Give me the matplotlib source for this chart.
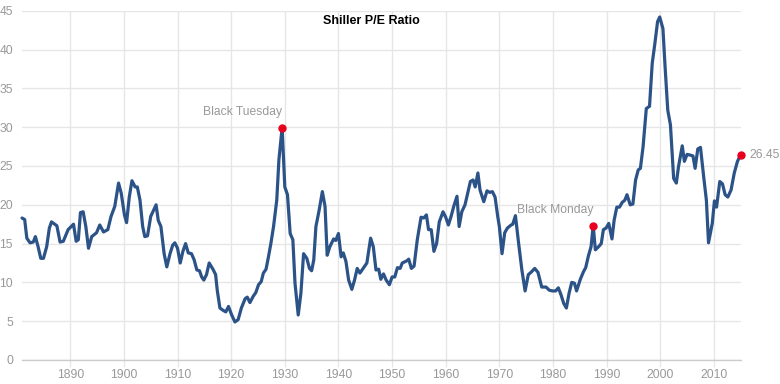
"""Shiller P/E ratio line chart, 1881-2015."""

import matplotlib

matplotlib.use("Agg")
import matplotlib.pyplot as plt

YEARS = [
    1881.0, 1881.5, 1881.9, 1882.5, 1883.1, 1883.5, 1884.0, 1884.5, 1885.0, 1885.6,
    1886.1, 1886.5, 1887.5, 1888.1, 1888.7, 1889.6, 1890.6, 1891.1, 1891.5, 1891.9,
    1892.4, 1892.9, 1893.4, 1894.0, 1894.9, 1895.5, 1896.2, 1897.0, 1897.6, 1898.3,
    1899.0, 1899.5, 1900.1, 1900.5, 1901.0, 1901.5, 1902.1, 1902.5, 1903.0, 1903.5,
    1903.9, 1904.4, 1905.0, 1906.0, 1906.4, 1906.9, 1907.5, 1908.0, 1908.6, 1909.1,
    1909.5, 1910.0, 1910.5, 1911.0, 1911.5, 1912.0, 1912.6, 1913.1, 1913.6, 1914.1,
    1914.5, 1914.9, 1915.4, 1915.9, 1916.6, 1917.1, 1917.4, 1917.9, 1918.5, 1919.0,
    1919.5, 1920.1, 1920.7, 1921.3, 1921.9, 1922.6, 1923.0, 1923.5, 1924.1, 1924.6,
    1925.1, 1925.6, 1926.0, 1926.5, 1926.9, 1927.4, 1927.9, 1928.5, 1928.9, 1929.5,
    1930.0, 1930.5, 1931.0, 1931.5, 1931.9, 1932.5, 1933.0, 1933.5, 1934.1, 1934.6,
    1935.0, 1935.4, 1935.8, 1936.4, 1937.0, 1937.5, 1937.9, 1938.4, 1939.1, 1939.5,
    1940.0, 1940.5, 1940.9, 1941.4, 1941.9, 1942.5, 1943.0, 1943.5, 1944.0, 1944.7,
    1945.3, 1946.0, 1946.5, 1947.0, 1947.5, 1947.9, 1948.4, 1948.9, 1949.5, 1950.0,
    1950.5, 1951.0, 1951.5, 1951.9, 1952.8, 1953.1, 1953.6, 1954.1, 1954.7, 1955.4,
    1955.9, 1956.4, 1956.8, 1957.3, 1957.8, 1958.3, 1958.8, 1959.5, 1960.0, 1960.5,
    1961.0, 1961.5, 1962.1, 1962.5, 1963.0, 1963.6, 1964.1, 1964.6, 1965.1, 1965.5,
    1966.0, 1966.4, 1967.1, 1967.7, 1968.2, 1968.7, 1969.2, 1969.7, 1970.0, 1970.5,
    1971.0, 1971.5, 1972.2, 1972.5, 1973.0, 1973.6, 1974.2, 1974.8, 1975.4, 1975.9,
    1976.6, 1977.2, 1977.9, 1978.7, 1979.3, 1979.9, 1980.5, 1981.0, 1981.5, 1982.0,
    1982.5, 1983.0, 1983.5, 1984.0, 1984.4, 1985.1, 1985.7, 1986.1, 1986.6, 1987.1,
    1987.5, 1987.9, 1988.5, 1989.0, 1989.4, 1989.9, 1990.4, 1991.0, 1991.4, 1991.9,
    1992.4, 1992.9, 1993.4, 1993.8, 1994.4, 1994.9, 1995.4, 1995.9, 1996.3, 1996.8,
    1997.4, 1998.0, 1998.5, 1999.0, 1999.5, 1999.9, 2000.5, 2000.9, 2001.4, 2001.9,
    2002.5, 2003.0, 2003.4, 2004.1, 2004.5, 2005.0, 2005.6, 2006.1, 2006.5, 2007.0,
    2007.5, 2008.1, 2008.6, 2009.0, 2009.7, 2010.1, 2010.5, 2011.1, 2011.6, 2012.1,
    2012.6, 2013.2, 2013.8, 2014.4, 2015.0,
]

PE_RATIO = [
    18.3, 18.1, 15.7, 15.1, 15.2, 15.9, 14.6, 13.1, 13.1, 14.6,
    17.0, 17.8, 17.3, 15.2, 15.3, 16.8, 17.5, 15.3, 15.5, 19.0,
    19.1, 17.2, 14.4, 15.9, 16.4, 17.4, 16.5, 16.8, 18.5, 19.8,
    22.8, 21.5, 18.7, 17.7, 21.0, 23.1, 22.3, 22.3, 20.6, 17.2,
    15.9, 16.0, 18.5, 20.0, 18.0, 17.2, 13.7, 12.0, 13.7, 14.8,
    15.1, 14.4, 12.5, 14.0, 15.0, 13.8, 13.7, 12.9, 11.6, 11.5,
    10.7, 10.3, 11.0, 12.5, 11.7, 11.0, 9.0, 6.7, 6.4, 6.2,
    6.9, 5.8, 4.9, 5.2, 6.7, 7.9, 8.1, 7.4, 8.2, 8.7,
    9.7, 10.1, 11.2, 11.7, 13.1, 15.0, 17.2, 20.6, 25.8, 29.96,
    22.3, 21.3, 16.3, 15.5, 9.9, 5.8, 8.6, 13.7, 13.1, 11.8,
    11.5, 12.9, 17.2, 19.3, 21.7, 19.8, 13.5, 14.6, 15.6, 15.4,
    16.3, 13.3, 13.8, 12.7, 10.3, 9.1, 10.3, 11.8, 11.2, 11.9,
    12.5, 15.7, 14.6, 11.6, 11.7, 10.4, 11.1, 10.3, 9.7, 10.7,
    10.7, 11.9, 11.8, 12.5, 12.8, 13.0, 11.8, 12.1, 15.5, 18.4,
    18.3, 18.7, 16.8, 16.8, 14.0, 15.0, 17.8, 19.1, 18.4, 17.4,
    18.5, 19.8, 21.1, 17.2, 19.1, 20.0, 21.5, 23.0, 23.2, 22.3,
    24.1, 21.9, 20.4, 21.8, 21.6, 21.7, 21.0, 18.5, 17.2, 13.7,
    16.4, 17.0, 17.4, 17.5, 18.6, 15.0, 11.6, 8.9, 11.0, 11.3,
    11.8, 11.3, 9.4, 9.4, 9.0, 8.9, 8.9, 9.3, 8.4, 7.3,
    6.7, 8.6, 10.0, 9.9, 8.9, 10.4, 11.4, 11.9, 13.4, 14.6,
    17.3, 14.2, 14.6, 15.0, 16.8, 17.0, 17.6, 15.6, 18.0, 19.7,
    19.7, 20.3, 20.6, 21.3, 20.0, 20.1, 23.2, 24.5, 24.7, 27.5,
    32.4, 32.7, 38.2, 40.8, 43.6, 44.2, 42.7, 37.8, 32.2, 30.3,
    23.4, 22.8, 24.9, 27.6, 25.6, 26.5, 26.4, 26.3, 24.7, 27.2,
    27.4, 23.6, 20.6, 15.1, 17.6, 20.5, 19.7, 23.0, 22.7, 21.3,
    21.0, 21.9, 24.1, 25.6, 26.45,
]

EVENT_YEARS = [1929.5, 1987.5]
EVENT_VALUES = [29.96, 17.3]
EVENT_LABELS = ["Black Tuesday", "Black Monday"]

X_TICKS = list(range(1890, 2011, 10))
Y_TICKS = list(range(0, 46, 5))

LINE_COLOR = "#2c5388"
DOT_COLOR = "#e8001f"
GRID_COLOR = "#e6e6e6"
LABEL_COLOR = "#999999"
FONT = "Liberation Sans"


def main() -> None:
    W, H = 780, 384
    fig = plt.figure(figsize=(W / 100, H / 100), dpi=100)
    left, right, top, bottom = 22, 740.7, 10.8, 360
    ax = fig.add_axes([left / W, (H - bottom) / H, (right - left) / W, (bottom - top) / H])

    ax.plot(YEARS, PE_RATIO, color=LINE_COLOR, linewidth=2.3,
            solid_joinstyle="round", solid_capstyle="round", zorder=3, clip_on=False)

    ax.set_xlim(1881, 2015)
    ax.set_ylim(0, 45)
    ax.set_xticks(X_TICKS)
    ax.set_yticks(Y_TICKS)
    ax.grid(True, color=GRID_COLOR, linewidth=1.0, zorder=0)
    ax.set_axisbelow(True)
    for side in ("top", "right", "left"):
        ax.spines[side].set_visible(False)
    ax.spines["bottom"].set_color("#cccccc")
    ax.spines["bottom"].set_linewidth(1.0)

    ax.tick_params(axis="x", colors=LABEL_COLOR, length=5.0, width=1.0,
                   color=GRID_COLOR, pad=1.5, labelsize=8.7)
    ax.tick_params(axis="y", colors=LABEL_COLOR, length=0, pad=6.5, labelsize=8.7)
    for lab in ax.get_xticklabels() + ax.get_yticklabels():
        lab.set_family(FONT)

    # event markers with labels up and to the left
    for yr, val, text in zip(EVENT_YEARS, EVENT_VALUES, EVENT_LABELS):
        ax.plot([yr], [val], "o", color=DOT_COLOR, markersize=5, zorder=4)
        ax.annotate(text, (yr, val), xytext=(0, 11.5), textcoords="offset points",
                    ha="right", va="center", color=LABEL_COLOR, fontsize=8.7,
                    family=FONT)

    # last value
    ax.plot([YEARS[-1]], [PE_RATIO[-1]], "o", color=DOT_COLOR, markersize=5,
            zorder=4, clip_on=False)
    ax.annotate(f"{PE_RATIO[-1]:.2f}", (YEARS[-1], PE_RATIO[-1]), xytext=(6, 0),
                textcoords="offset points", ha="left", va="center",
                color=LABEL_COLOR, fontsize=8.7, family=FONT)

    fig.text(371 / W, 1 - 21 / H, "Shiller P/E Ratio", ha="center", va="center",
             fontsize=9, fontweight="bold", family=FONT, color="black")

    fig.savefig("out.png", dpi=100)
    plt.close(fig)


if __name__ == "__main__":
    main()
